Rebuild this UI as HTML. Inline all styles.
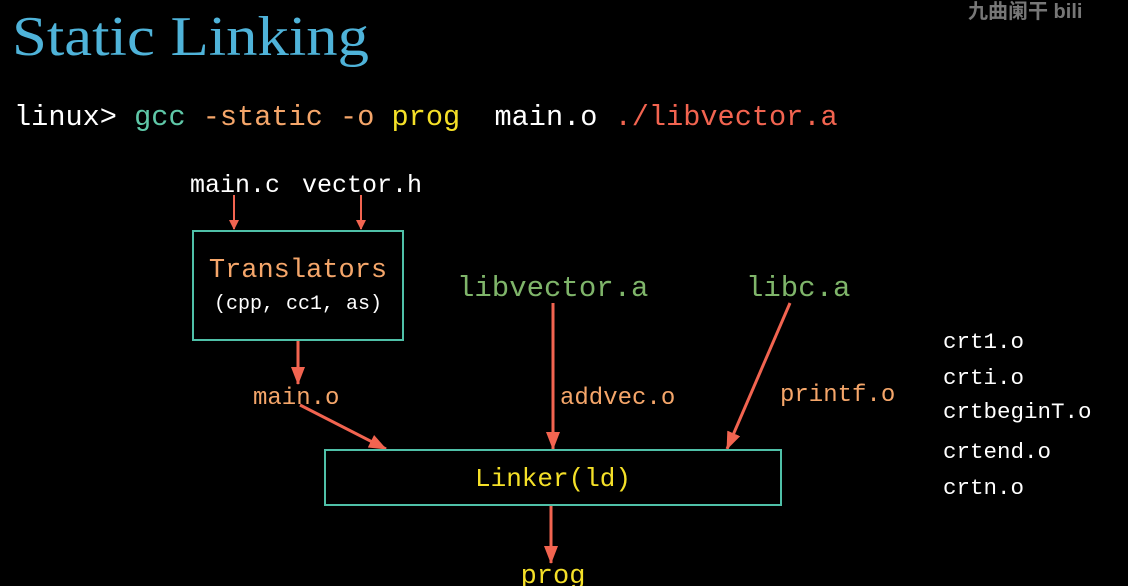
<!DOCTYPE html>
<html><head><meta charset="utf-8"><style>
html,body{margin:0;padding:0;background:#000;width:1128px;height:586px;overflow:hidden}
svg{display:block}
text{font-family:"Liberation Mono",monospace}
</style></head><body>
<svg width="1128" height="586" viewBox="0 0 1128 586">
<defs><marker id="a" markerWidth="10" markerHeight="10" refX="9" refY="5" orient="auto" markerUnits="userSpaceOnUse"><path d="M0,0 L10,5 L0,10 z" fill="#f26450"/></marker>
<marker id="b" markerWidth="18" markerHeight="14" refX="17" refY="7" orient="auto" markerUnits="userSpaceOnUse"><path d="M0,0 L18,7 L0,14 z" fill="#f26450"/></marker></defs>
<text x="12" y="55" style="font-family:'Liberation Serif',serif" font-size="56" fill="#4fb3d9" textLength="357" lengthAdjust="spacingAndGlyphs">Static Linking</text>
<text x="968" y="18" style="font-family:'Liberation Sans','Noto Sans CJK SC',sans-serif" font-size="20" font-weight="bold" fill="#777">九曲阑干 bili</text>
<text x="14" y="125" font-size="28.6" xml:space="preserve"><tspan fill="#fff">linux&gt; </tspan><tspan fill="#5fc8a8">gcc </tspan><tspan fill="#f5a66a">-static -o </tspan><tspan fill="#f5e028">prog</tspan><tspan fill="#fff">  main.o </tspan><tspan fill="#f26450">./libvector.a</tspan></text>
<text x="190" y="192" font-size="25" fill="#fff">main.c</text>
<text x="302" y="192" font-size="25" fill="#fff">vector.h</text>
<line x1="234" y1="195" x2="234" y2="229" stroke="#f26450" stroke-width="2" marker-end="url(#a)"/>
<line x1="361" y1="195" x2="361" y2="229" stroke="#f26450" stroke-width="2" marker-end="url(#a)"/>
<rect x="193" y="231" width="210" height="109" fill="none" stroke="#4fc0a8" stroke-width="2"/>
<text x="298" y="277" font-size="27" fill="#f5a66a" text-anchor="middle">Translators</text>
<text x="298" y="309" font-size="20" fill="#fff" text-anchor="middle">(cpp, cc1, as)</text>
<line x1="298" y1="341" x2="298" y2="384" stroke="#f26450" stroke-width="3" marker-end="url(#b)"/>
<text x="253" y="404" font-size="24" fill="#f5a66a">main.o</text>
<line x1="300" y1="405" x2="386" y2="449" stroke="#f26450" stroke-width="3" marker-end="url(#b)"/>
<text x="457" y="296" font-size="29" fill="#7fb56a">libvector.a</text>
<line x1="553" y1="303" x2="553" y2="449" stroke="#f26450" stroke-width="3" marker-end="url(#b)"/>
<text x="560" y="404" font-size="24" fill="#f5a66a">addvec.o</text>
<text x="746" y="296" font-size="29" fill="#7fb56a">libc.a</text>
<line x1="790" y1="303" x2="727" y2="449" stroke="#f26450" stroke-width="3" marker-end="url(#b)"/>
<text x="780" y="401" font-size="24" fill="#f5a66a">printf.o</text>
<rect x="325" y="450" width="456" height="55" fill="none" stroke="#4fc0a8" stroke-width="2"/>
<text x="553" y="486" font-size="26" fill="#f5e028" text-anchor="middle">Linker(ld)</text>
<line x1="551" y1="506" x2="551" y2="563" stroke="#f26450" stroke-width="3" marker-end="url(#b)"/>
<text x="553" y="583" font-size="27" fill="#f5e028" text-anchor="middle">prog</text>
<g font-size="22.5" fill="#fff">
<text x="943" y="348">crt1.o</text>
<text x="943" y="384">crti.o</text>
<text x="943" y="418">crtbeginT.o</text>
<text x="943" y="458">crtend.o</text>
<text x="943" y="494">crtn.o</text>
</g>
</svg>
</body></html>
